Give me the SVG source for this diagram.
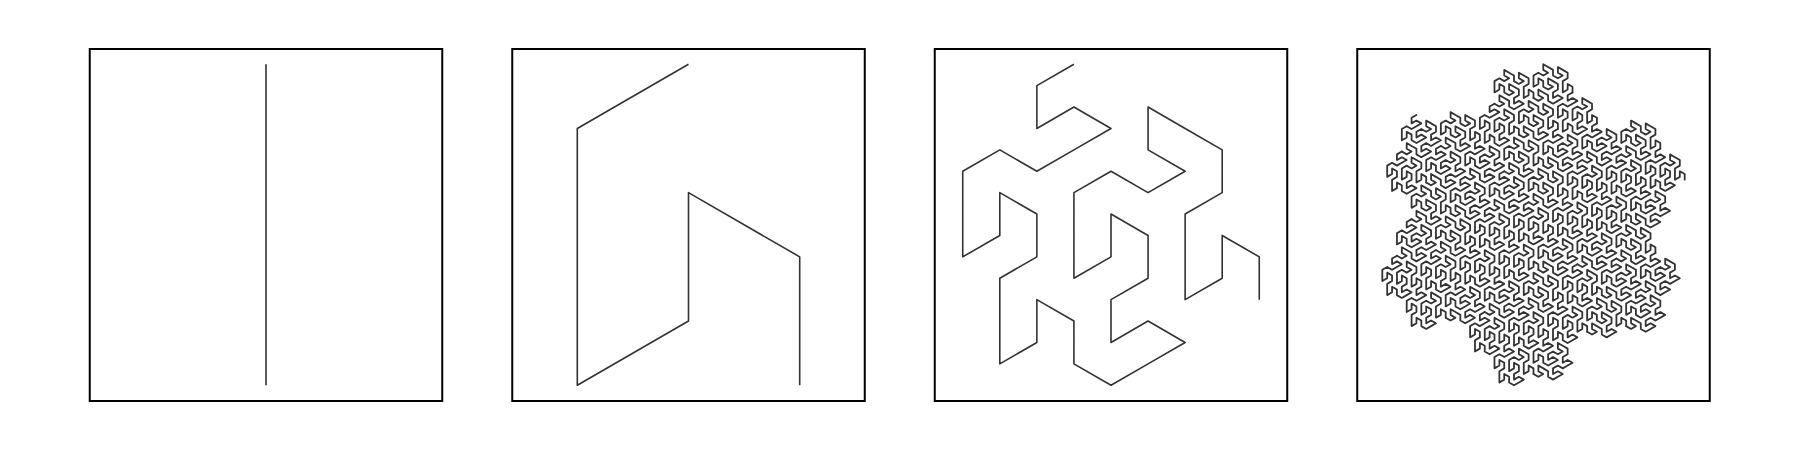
<svg xmlns="http://www.w3.org/2000/svg" width="1800" height="450" viewBox="0 0 1800 450">
<style>
.frame{fill:none;stroke:#000;stroke-width:2}
.curve{fill:none;stroke:#333;stroke-width:1.6;stroke-linejoin:round;stroke-linecap:butt}
.dense{fill:none;stroke:#333;stroke-width:1.8;stroke-linejoin:round;stroke-linecap:round}
</style>
<defs>
<path id="g2" class="dense" d="M0,0 L0,-5.632 L-4.877,-8.447 L-4.877,-2.816 L-9.754,0 L-9.754,-5.632 L-9.754,-11.263 L-4.877,-14.079 L-4.877,-19.711 L-9.754,-22.526 L-14.631,-25.342 L-14.631,-19.711 L-9.754,-16.895 L-14.631,-14.079 L-19.508,-16.895 L-24.385,-14.079 L-24.385,-8.447 L-24.385,-2.816 L-19.508,-5.632 L-19.508,-11.263 L-14.631,-8.447 L-14.631,-2.816 L-19.508,0 L-19.508,5.632 L-14.631,2.816 L-9.754,5.632 L-14.631,8.447 L-19.508,11.263 L-24.385,8.447 L-24.385,2.816 L-29.263,0 L-29.263,5.632 L-34.140,8.447 L-34.140,2.816 L-34.140,-2.816 L-29.263,-5.632 L-29.263,-11.263 L-34.140,-14.079 L-34.140,-8.447 L-39.017,-5.632 L-39.017,-11.263 L-39.017,-16.895 L-34.140,-19.711 L-29.263,-16.895 L-24.385,-19.711 L-19.508,-22.526 L-24.385,-25.342 L-29.263,-22.526 L-29.263,-28.158 L-24.385,-30.974"/>
</defs>
<rect x="0" y="0" width="1800" height="450" fill="#fff"/>
<g id="panel-level0">
<rect class="frame" x="89.75" y="49" width="352.5" height="352"/>
<path class="curve" d="M266,385.25 L266,64.25"/>
</g>
<g id="panel-level1">
<rect class="frame" x="512.25" y="49" width="352.5" height="352"/>
<path class="curve" d="M799.70,385.25 L799.70,256.85 L688.50,192.65 L688.50,321.05 L577.30,385.25 L577.30,256.85 L577.30,128.45 L688.50,64.25"/>
</g>
<g id="panel-level2">
<rect class="frame" x="934.75" y="49" width="352.5" height="352"/>
<path class="curve" d="M1259.26,299.65 L1259.26,256.85 L1222.20,235.45 L1222.20,278.25 L1185.13,299.65 L1185.13,256.85 L1185.13,214.05 L1222.20,192.65 L1222.20,149.85 L1185.13,128.45 L1148.06,107.05 L1148.06,149.85 L1185.13,171.25 L1148.06,192.65 L1111.00,171.25 L1073.93,192.65 L1073.93,235.45 L1073.93,278.25 L1111.00,256.85 L1111.00,214.05 L1148.06,235.45 L1148.06,278.25 L1111.00,299.65 L1111.00,342.45 L1148.06,321.05 L1185.13,342.45 L1148.06,363.85 L1111.00,385.25 L1073.93,363.85 L1073.93,321.05 L1036.86,299.65 L1036.86,342.45 L999.80,363.85 L999.80,321.05 L999.80,278.25 L1036.86,256.85 L1036.86,214.05 L999.80,192.65 L999.80,235.45 L962.73,256.85 L962.73,214.05 L962.73,171.25 L999.80,149.85 L1036.86,171.25 L1073.93,149.85 L1111.00,128.45 L1073.93,107.05 L1036.86,128.45 L1036.86,85.65 L1073.93,64.25"/>
</g>
<g id="panel-level4">
<rect class="frame" x="1357.25" y="49" width="352.5" height="352"/>
<g transform="translate(1684.69,179.70)">
<use href="#g2" transform="translate(0,0)"/>
<use href="#g2" transform="translate(-63.402,-25.342) rotate(120)"/>
<use href="#g2" transform="translate(-39.017,5.632)"/>
<use href="#g2" transform="translate(-39.017,5.632) rotate(240)"/>
<use href="#g2" transform="translate(-53.648,42.237)"/>
<use href="#g2" transform="translate(-78.033,11.263)"/>
<use href="#g2" transform="translate(-87.788,-56.316) rotate(240)"/>
<use href="#g2" transform="translate(-87.788,-56.316)"/>
<use href="#g2" transform="translate(-151.190,-81.658) rotate(120)"/>
<use href="#g2" transform="translate(-190.207,-76.026) rotate(120)"/>
<use href="#g2" transform="translate(-165.821,-45.053)"/>
<use href="#g2" transform="translate(-165.821,-45.053) rotate(120)"/>
<use href="#g2" transform="translate(-126.804,-50.684) rotate(240)"/>
<use href="#g2" transform="translate(-180.452,-8.447) rotate(120)"/>
<use href="#g2" transform="translate(-180.452,-8.447) rotate(240)"/>
<use href="#g2" transform="translate(-170.698,59.132)"/>
<use href="#g2" transform="translate(-146.313,90.105)"/>
<use href="#g2" transform="translate(-131.681,53.500) rotate(240)"/>
<use href="#g2" transform="translate(-131.681,53.500)"/>
<use href="#g2" transform="translate(-156.067,22.526) rotate(120)"/>
<use href="#g2" transform="translate(-92.665,47.868)"/>
<use href="#g2" transform="translate(-92.665,47.868) rotate(240)"/>
<use href="#g2" transform="translate(-82.911,115.447)"/>
<use href="#g2" transform="translate(-68.279,78.842) rotate(240)"/>
<use href="#g2" transform="translate(-68.279,78.842) rotate(120)"/>
<use href="#g2" transform="translate(-29.263,73.211) rotate(240)"/>
<use href="#g2" transform="translate(-43.894,109.816) rotate(240)"/>
<use href="#g2" transform="translate(-97.542,152.053) rotate(120)"/>
<use href="#g2" transform="translate(-97.542,152.053)"/>
<use href="#g2" transform="translate(-160.944,126.711) rotate(120)"/>
<use href="#g2" transform="translate(-136.559,157.684)"/>
<use href="#g2" transform="translate(-136.559,157.684) rotate(240)"/>
<use href="#g2" transform="translate(-151.190,194.289)"/>
<use href="#g2" transform="translate(-175.575,163.316)"/>
<use href="#g2" transform="translate(-185.329,95.737) rotate(240)"/>
<use href="#g2" transform="translate(-185.329,95.737)"/>
<use href="#g2" transform="translate(-248.732,70.395) rotate(120)"/>
<use href="#g2" transform="translate(-224.346,101.368)"/>
<use href="#g2" transform="translate(-224.346,101.368) rotate(240)"/>
<use href="#g2" transform="translate(-238.977,137.974)"/>
<use href="#g2" transform="translate(-263.363,107.000)"/>
<use href="#g2" transform="translate(-273.117,39.421) rotate(240)"/>
<use href="#g2" transform="translate(-273.117,39.421) rotate(120)"/>
<use href="#g2" transform="translate(-219.469,-2.816) rotate(240)"/>
<use href="#g2" transform="translate(-204.838,-39.421) rotate(240)"/>
<use href="#g2" transform="translate(-243.855,-33.789) rotate(120)"/>
<use href="#g2" transform="translate(-243.855,-33.789) rotate(240)"/>
<use href="#g2" transform="translate(-258.486,2.816)"/>
<use href="#g2" transform="translate(-268.240,-64.763) rotate(240)"/>
</g>
</g>
</svg>
